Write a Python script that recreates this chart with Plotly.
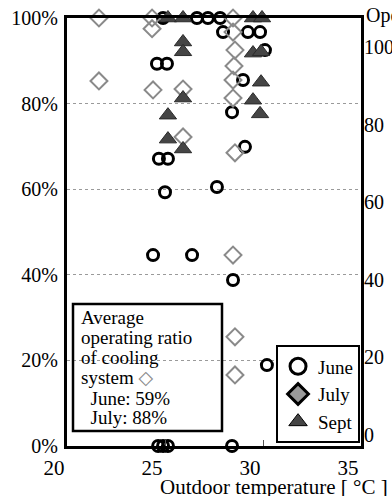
import plotly.graph_objects as go

# ---- data ----
june_temp = [24.59, 25.10, 24.90, 26.63, 27.19, 27.81, 27.96, 29.23, 29.85, 30.10,
             28.98, 28.42, 29.08, 24.69, 25.15, 25.00, 27.65, 24.39, 26.38, 28.47,
             30.20, 24.65, 24.90, 25.15, 28.42]
june_ratio = [89.3, 89.3, 100.0, 100.0, 100.0, 100.0, 96.7, 96.7, 96.7, 92.5,
              85.5, 78.0, 69.9, 67.1, 67.1, 59.3, 60.5, 44.6, 44.6, 38.8,
              18.9, 0.0, 0.0, 0.0, 0.0]

july_temp = [21.63, 21.63, 24.34, 24.34, 24.39, 25.92, 25.92, 28.47, 28.47, 28.57,
             28.52, 28.47, 28.47, 28.57, 28.47, 28.57, 28.57]
july_ratio = [100.0, 85.3, 100.0, 97.5, 83.2, 83.4, 72.2, 100.0, 96.7, 92.5,
              88.8, 85.5, 81.3, 68.5, 44.6, 25.5, 16.6]

sept_temp = [25.15, 25.92, 25.92, 25.92, 25.92, 25.15, 25.15, 25.92, 29.49, 29.95,
             29.49, 29.90, 29.90, 29.49, 29.85]
sept_ratio = [100.0, 100.0, 94.4, 92.1, 81.3, 77.3, 71.7, 69.4, 100.0, 100.0,
              91.8, 92.1, 85.0, 80.8, 77.6]

x_ticks = [20, 25, 30, 35]
y_ticks = [0, 20, 40, 60, 80, 100]
y_tick_labels = ["0%", "20%", "40%", "60%", "80%", "100%"]
right_ticks = [0, 20, 40, 60, 80, 100]

box_lines = ["Average", "operating ratio", "of cooling",
             "system <span style='color:#8a8a8a;font-family:DejaVu Sans'>◇</span>",
             "  June: 59%", "  July: 88%"]

FONT = "'Liberation Serif', 'Times New Roman', Times, 'DejaVu Serif', serif"

fig = go.Figure()

fig.add_trace(go.Scatter(
    x=june_temp, y=june_ratio, mode="markers", name="June", showlegend=False,
    marker=dict(symbol="circle-open", size=11, color="black", line=dict(width=3, color="black")),
    cliponaxis=False))
fig.add_trace(go.Scatter(
    x=july_temp, y=july_ratio, mode="markers", name="July", showlegend=False,
    marker=dict(symbol="diamond-open", size=13, color="#8a8a8a", line=dict(width=2, color="#8a8a8a")),
    cliponaxis=False))
fig.add_trace(go.Scatter(
    x=sept_temp, y=sept_ratio, mode="markers", name="Sept", showlegend=False,
    marker=dict(symbol="triangle-up", size=15, color="#454545", line=dict(width=1, color="#2a2a2a")),
    cliponaxis=False))

# legend entries (styled like the reference legend)
fig.add_trace(go.Scatter(x=[None], y=[None], mode="markers", name="June",
                         marker=dict(symbol="circle-open", size=16, color="black",
                                     line=dict(width=3, color="black"))))
fig.add_trace(go.Scatter(x=[None], y=[None], mode="markers", name="July",
                         marker=dict(symbol="diamond", size=16, color="#9a9a9a",
                                     line=dict(width=3, color="black"))))
fig.add_trace(go.Scatter(x=[None], y=[None], mode="markers", name="Sept",
                         marker=dict(symbol="triangle-up", size=16, color="#454545",
                                     line=dict(width=1, color="black"))))

# invisible trace for the right-hand axis
fig.add_trace(go.Scatter(x=[None], y=[None], yaxis="y2", showlegend=False, hoverinfo="skip"))

fig.update_layout(
    width=392, height=496,
    margin=dict(l=67, r=31, t=18, b=50, autoexpand=False),
    paper_bgcolor="white", plot_bgcolor="white",
    font=dict(family=FONT, size=20, color="black"),
    xaxis=dict(range=[20, 35], tickvals=x_ticks, ticks="inside", ticklen=6, tickwidth=1,
               tickcolor="#555", showgrid=False, zeroline=False,
               showline=True, linewidth=3, linecolor="black", mirror=True,
               tickfont=dict(family=FONT, size=21), ticklabelshift=-13, ticklabelstandoff=1),
    yaxis=dict(range=[0, 100], tickvals=y_ticks, ticktext=y_tick_labels, ticks="",
               showgrid=True, gridcolor="#9a9a9a", griddash="dot", gridwidth=1,
               zeroline=False, showline=True, linewidth=3, linecolor="black", mirror=True,
               tickfont=dict(family=FONT, size=20), ticklabelstandoff=2),
    yaxis2=dict(overlaying="y", side="right", range=[-2.84, 107.5], tickvals=right_ticks,
                showgrid=False, zeroline=False, showline=False, ticks="",
                tickfont=dict(family=FONT, size=20), ticklabelstandoff=2),
    legend=dict(x=0.711, y=0.235, xanchor="left", yanchor="top",
                bgcolor="white", bordercolor="black", borderwidth=2,
                font=dict(family=FONT, size=19), itemsizing="trace",
                tracegroupgap=0),
)

# left text box
fig.add_shape(type="rect", xref="paper", yref="paper",
              x0=(73 - 67) / 294, x1=(222 - 67) / 294,
              y0=(446 - 431) / 428, y1=(446 - 304) / 428,
              line=dict(color="black", width=2.5), fillcolor="rgba(0,0,0,0)")
line_y = [317, 337, 357, 377, 398, 417]
for txt, py in zip(box_lines, line_y):
    fig.add_annotation(xref="paper", yref="paper", x=(79 - 67) / 294, y=(446 - py) / 428,
                       xanchor="left", yanchor="middle", showarrow=False,
                       text=txt.replace("  ", "&nbsp;&nbsp;"),
                       font=dict(family=FONT, size=19, color="black"))

# x-axis title (placed as in the reference, running off the right edge)
fig.add_annotation(xref="paper", yref="paper", x=(158 - 67) / 294, y=(446 - 487) / 428,
                   xanchor="left", yanchor="middle", showarrow=False,
                   text="Outdoor temperature [ °C ]",
                   font=dict(family=FONT, size=21, color="black"))
# right axis title, cut off at the edge
fig.add_annotation(xref="paper", yref="paper", x=(364 - 67) / 294, y=(446 - 16) / 428,
                   xanchor="left", yanchor="middle", showarrow=False,
                   text="Operating ratio [%]",
                   font=dict(family=FONT, size=20, color="black"))

fig.write_html("out.html", config={"displayModeBar": False},
               post_script="document.body.style.margin='0';document.body.style.overflow='hidden';")
